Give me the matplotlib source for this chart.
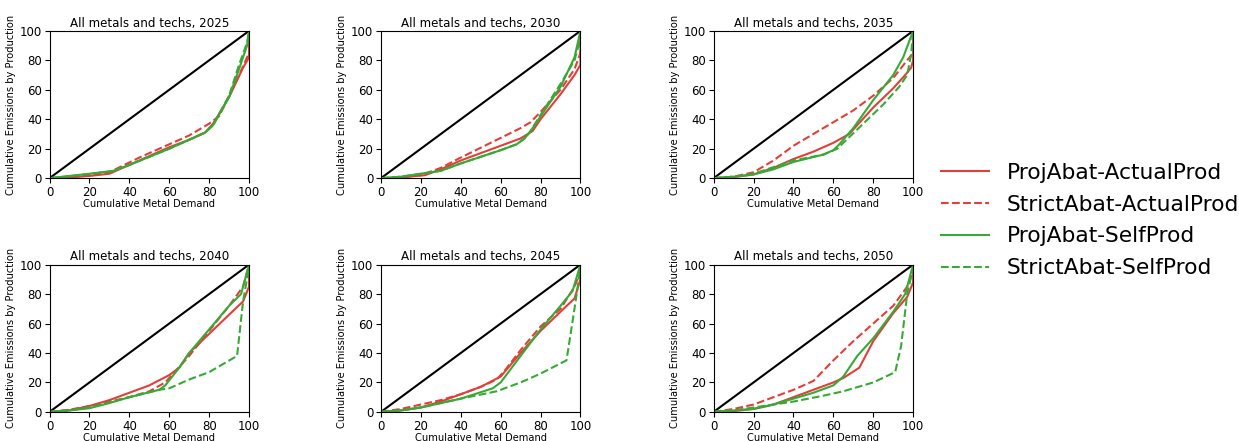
import numpy as np
import matplotlib.pyplot as plt

# Curvas tipo Lorenz: demanda acumulada (x) vs emisiones acumuladas (y)
years = [2025, 2030, 2035, 2040, 2045, 2050]
labels = ["ProjAbat-ActualProd", "StrictAbat-ActualProd",
          "ProjAbat-SelfProd", "StrictAbat-SelfProd"]

# 2025
x25_pa = [0, 10, 20, 30, 40, 50, 60, 70, 78, 82, 90, 97, 100, 100]
y25_pa = [0, 0.5, 1.5, 3, 9, 15, 21, 26, 31, 37, 55, 75, 82, 100]
x25_sa = [0, 10, 20, 30, 45, 60, 70, 80, 85, 95, 99, 100, 100]
y25_sa = [0, 0.5, 2, 4, 14, 23, 29, 37, 42, 70, 82, 85, 100]
x25_ps = [0, 10, 20, 32, 40, 60, 78, 82, 90, 96, 99, 100]
y25_ps = [0, 1.5, 3, 5, 9, 20, 31, 36, 55, 78, 90, 100]
x25_ss = [0, 10, 20, 32, 40, 60, 78, 82, 90, 95, 99, 100]
y25_ss = [0, 1.3, 2.8, 4.8, 9, 20, 31, 36, 56, 77, 92, 100]

# 2030
x30_pa = [0, 10, 22, 30, 40, 50, 60, 70, 76, 80, 90, 97, 100, 100]
y30_pa = [0, 0.5, 2, 6, 12, 17, 22, 27, 32, 40, 57, 70, 77, 100]
x30_sa = [0, 10, 20, 30, 40, 55, 70, 75, 80, 90, 97, 100, 100]
y30_sa = [0, 0.5, 2, 7, 14, 24, 34, 38, 45, 60, 74, 85, 100]
x30_ps = [0, 10, 20, 30, 40, 60, 68, 72, 75, 80, 90, 97, 100]
y30_ps = [0, 1, 3, 5, 10, 19, 23, 27, 32, 42, 62, 82, 100]
x30_ss = [0, 10, 20, 30, 40, 60, 68, 72, 75, 80, 90, 97, 99, 100]
y30_ss = [0, 1, 3, 5, 10, 19, 23, 27, 32, 43, 64, 80, 90, 100]

# 2035
x35_pa = [0, 10, 20, 30, 40, 50, 60, 68, 80, 90, 96, 99, 100, 100]
y35_pa = [0, 0.7, 2.5, 7, 13, 18, 24, 30, 48, 61, 70, 75, 80, 100]
x35_sa = [0, 10, 20, 30, 40, 50, 60, 70, 80, 90, 97, 100, 100]
y35_sa = [0, 1, 4, 12, 22, 30, 38, 46, 56, 68, 80, 85, 100]
x35_ps = [0, 10, 20, 30, 40, 55, 60, 63, 70, 80, 90, 95, 100]
y35_ps = [0, 1, 2.5, 6, 11, 16, 19, 23, 34, 53, 70, 82, 100]
x35_ss = [0, 10, 20, 40, 55, 62, 65, 75, 85, 93, 97, 99, 100]
y35_ss = [0, 1, 3, 12, 16, 20, 24, 37, 50, 62, 70, 84, 100]

# 2040
x40_pa = [0, 10, 20, 30, 40, 50, 60, 65, 70, 80, 90, 97, 100, 100]
y40_pa = [0, 1, 4, 8, 13, 18, 25, 30, 40, 53, 66, 75, 85, 100]
x40_sa = [0, 10, 20, 30, 40, 50, 58, 62, 70, 80, 90, 97, 100]
y40_sa = [0, 1.5, 4, 7, 10, 14, 20, 26, 38, 55, 72, 85, 100]
x40_ps = [0, 10, 20, 30, 40, 55, 58, 65, 70, 80, 90, 96, 100]
y40_ps = [0, 1, 2.5, 6, 10, 15, 18, 30, 40, 56, 72, 80, 100]
x40_ss = [0, 10, 20, 40, 55, 60, 70, 80, 94, 97, 100]
y40_ss = [0, 1, 3, 10, 15, 16, 22, 27, 38, 75, 98]

# 2045
x45_pa = [0, 10, 20, 30, 40, 50, 60, 70, 80, 90, 97, 100, 100]
y45_pa = [0, 1, 3, 7, 12, 17, 24, 40, 55, 68, 77, 90, 100]
x45_sa = [0, 10, 20, 30, 40, 50, 58, 62, 70, 80, 90, 97, 100, 100]
y45_sa = [0, 2, 5, 8, 12, 17, 22, 28, 42, 58, 70, 85, 95, 100]
x45_ps = [0, 10, 20, 30, 40, 56, 60, 70, 80, 90, 96, 100]
y45_ps = [0, 1, 3, 6, 9, 16, 20, 38, 56, 72, 82, 100]
x45_ss = [0, 10, 20, 40, 58, 70, 80, 93, 97, 100]
y45_ss = [0, 1, 3, 9, 14, 20, 26, 35, 70, 98]

# 2050
x50_pa = [0, 10, 20, 30, 40, 50, 60, 65, 73, 80, 90, 97, 100, 100]
y50_pa = [0, 0.5, 2, 5, 10, 15, 20, 23, 30, 48, 67, 78, 88, 100]
x50_sa = [0, 10, 20, 30, 40, 50, 55, 60, 70, 80, 90, 97, 100, 100]
y50_sa = [0, 2, 5, 10, 15, 21, 28, 35, 48, 60, 72, 85, 95, 100]
x50_ps = [0, 10, 20, 30, 40, 50, 60, 65, 72, 80, 90, 96, 100]
y50_ps = [0, 1, 2, 5, 9, 13, 18, 24, 38, 50, 68, 80, 100]
x50_ss = [0, 10, 20, 40, 55, 65, 80, 91, 94, 97, 100]
y50_ss = [0, 1, 3, 7, 11, 14, 20, 27, 45, 80, 98]

curvas = {
    2025: [(x25_pa, y25_pa), (x25_sa, y25_sa), (x25_ps, y25_ps), (x25_ss, y25_ss)],
    2030: [(x30_pa, y30_pa), (x30_sa, y30_sa), (x30_ps, y30_ps), (x30_ss, y30_ss)],
    2035: [(x35_pa, y35_pa), (x35_sa, y35_sa), (x35_ps, y35_ps), (x35_ss, y35_ss)],
    2040: [(x40_pa, y40_pa), (x40_sa, y40_sa), (x40_ps, y40_ps), (x40_ss, y40_ss)],
    2045: [(x45_pa, y45_pa), (x45_sa, y45_sa), (x45_ps, y45_ps), (x45_ss, y45_ss)],
    2050: [(x50_pa, y50_pa), (x50_sa, y50_sa), (x50_ps, y50_ps), (x50_ss, y50_ss)],
}

red = '#e0403a'
green = '#37a936'
estilos = [(red, '-'), (red, '--'), (green, '-'), (green, '--')]

fig = plt.figure(figsize=(12.39, 4.41), dpi=100)
lefts = [0.040, 0.3075, 0.576]
bottoms = [0.596, 0.066]

for i, yr in enumerate(years):
    ax = fig.add_axes([lefts[i % 3], bottoms[i // 3], 0.161, 0.334])
    ax.plot([0, 100], [0, 100], color='black', lw=1.5)
    for (xs, ys), (c, ls), lab in zip(curvas[yr], estilos, labels):
        ax.plot(xs, ys, color=c, ls=ls, lw=1.5, label=lab)
    ax.set_xlim(0, 100)
    ax.set_ylim(0, 100)
    ax.set_xticks([0, 20, 40, 60, 80, 100])
    ax.set_yticks([0, 20, 40, 60, 80, 100])
    ax.tick_params(labelsize=8.5, pad=2)
    ax.set_title("All metals and techs, %d" % yr, fontsize=8.6, pad=3)
    ax.set_xlabel("Cumulative Metal Demand", fontsize=7.1, labelpad=0)
    ax.set_ylabel("Cumulative Emissions by Production", fontsize=7.1, labelpad=3)

h, l = ax.get_legend_handles_labels()
fig.legend(h, l, loc='center left', bbox_to_anchor=(0.744, 0.5),
           frameon=False, fontsize=15.7, handlelength=2.2, labelspacing=0.55)

fig.savefig('out.png', dpi=100)
